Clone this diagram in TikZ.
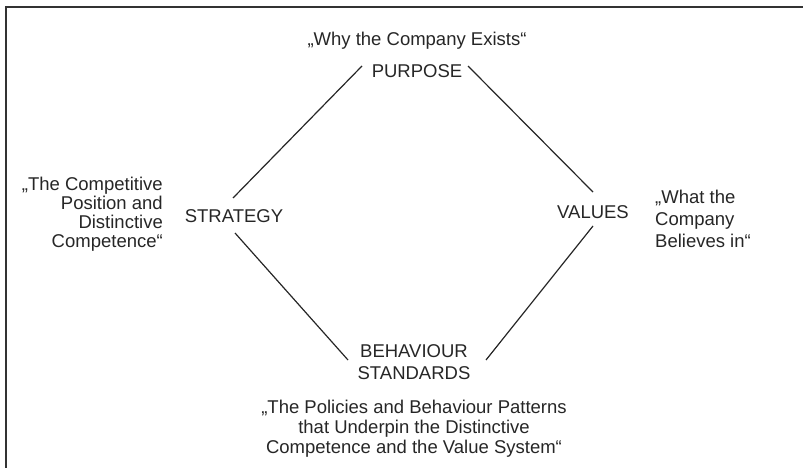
\documentclass[tikz,border=0pt]{standalone}
\usepackage{fontspec}
\setmainfont{Liberation Sans}
\begin{document}
\begin{tikzpicture}[x=1pt,y=-1pt,
  lbl/.style={inner sep=0pt, text=black!85},
  big/.style={font=\fontsize{18.5}{20}\selectfont},
  link/.style={line width=1.2pt, black!85},
  frame/.style={line width=2pt, black!80}]
\useasboundingbox (0,0) rectangle (803,468);
\draw[frame] (6,468) -- (6,7) -- (803,7);

% main labels
\node[lbl, big, anchor=base] (purpose) at (417,78) {PURPOSE};
\node[lbl, big, anchor=base] (strategy) at (234,222) {STRATEGY};
\node[lbl, big, anchor=base] (values) at (593,218) {VALUES};
\node[lbl, font=\fontsize{18.5}{22}\selectfont, align=center, anchor=north] (behaviour) at (414,344) {BEHAVIOUR\\STANDARDS};

% quotes
\node[lbl, big, anchor=base] (whyq) at (417,46) {„Why the Company Exists“};
\node[lbl, font=\fontsize{18.5}{19}\selectfont, align=right, anchor=north east] (stratq) at (163,177) {„The Competitive\\Position and\hspace*{7pt}\\Distinctive\\Competence“};
\node[lbl, font=\fontsize{18.5}{22}\selectfont, align=left, anchor=north west] (valq) at (655,190) {„What the\\Company\\Believes in“};
\node[lbl, font=\fontsize{18.5}{20}\selectfont, align=center, anchor=north] (behq) at (414,400) {„The Policies and Behaviour Patterns\\that Underpin the Distinctive\\Competence and the Value System“};

% connector end points
\coordinate (pl) at (362,66);
\coordinate (sl) at (233,198);
\coordinate (pr) at (468,66);
\coordinate (vr) at (593,192);
\coordinate (sb) at (235,233);
\coordinate (bl) at (348,360);
\coordinate (vb) at (593,226);
\coordinate (br) at (486,360);

\draw[link] (pl) -- (sl);
\draw[link] (pr) -- (vr);
\draw[link] (sb) -- (bl);
\draw[link] (vb) -- (br);
\end{tikzpicture}
\end{document}
